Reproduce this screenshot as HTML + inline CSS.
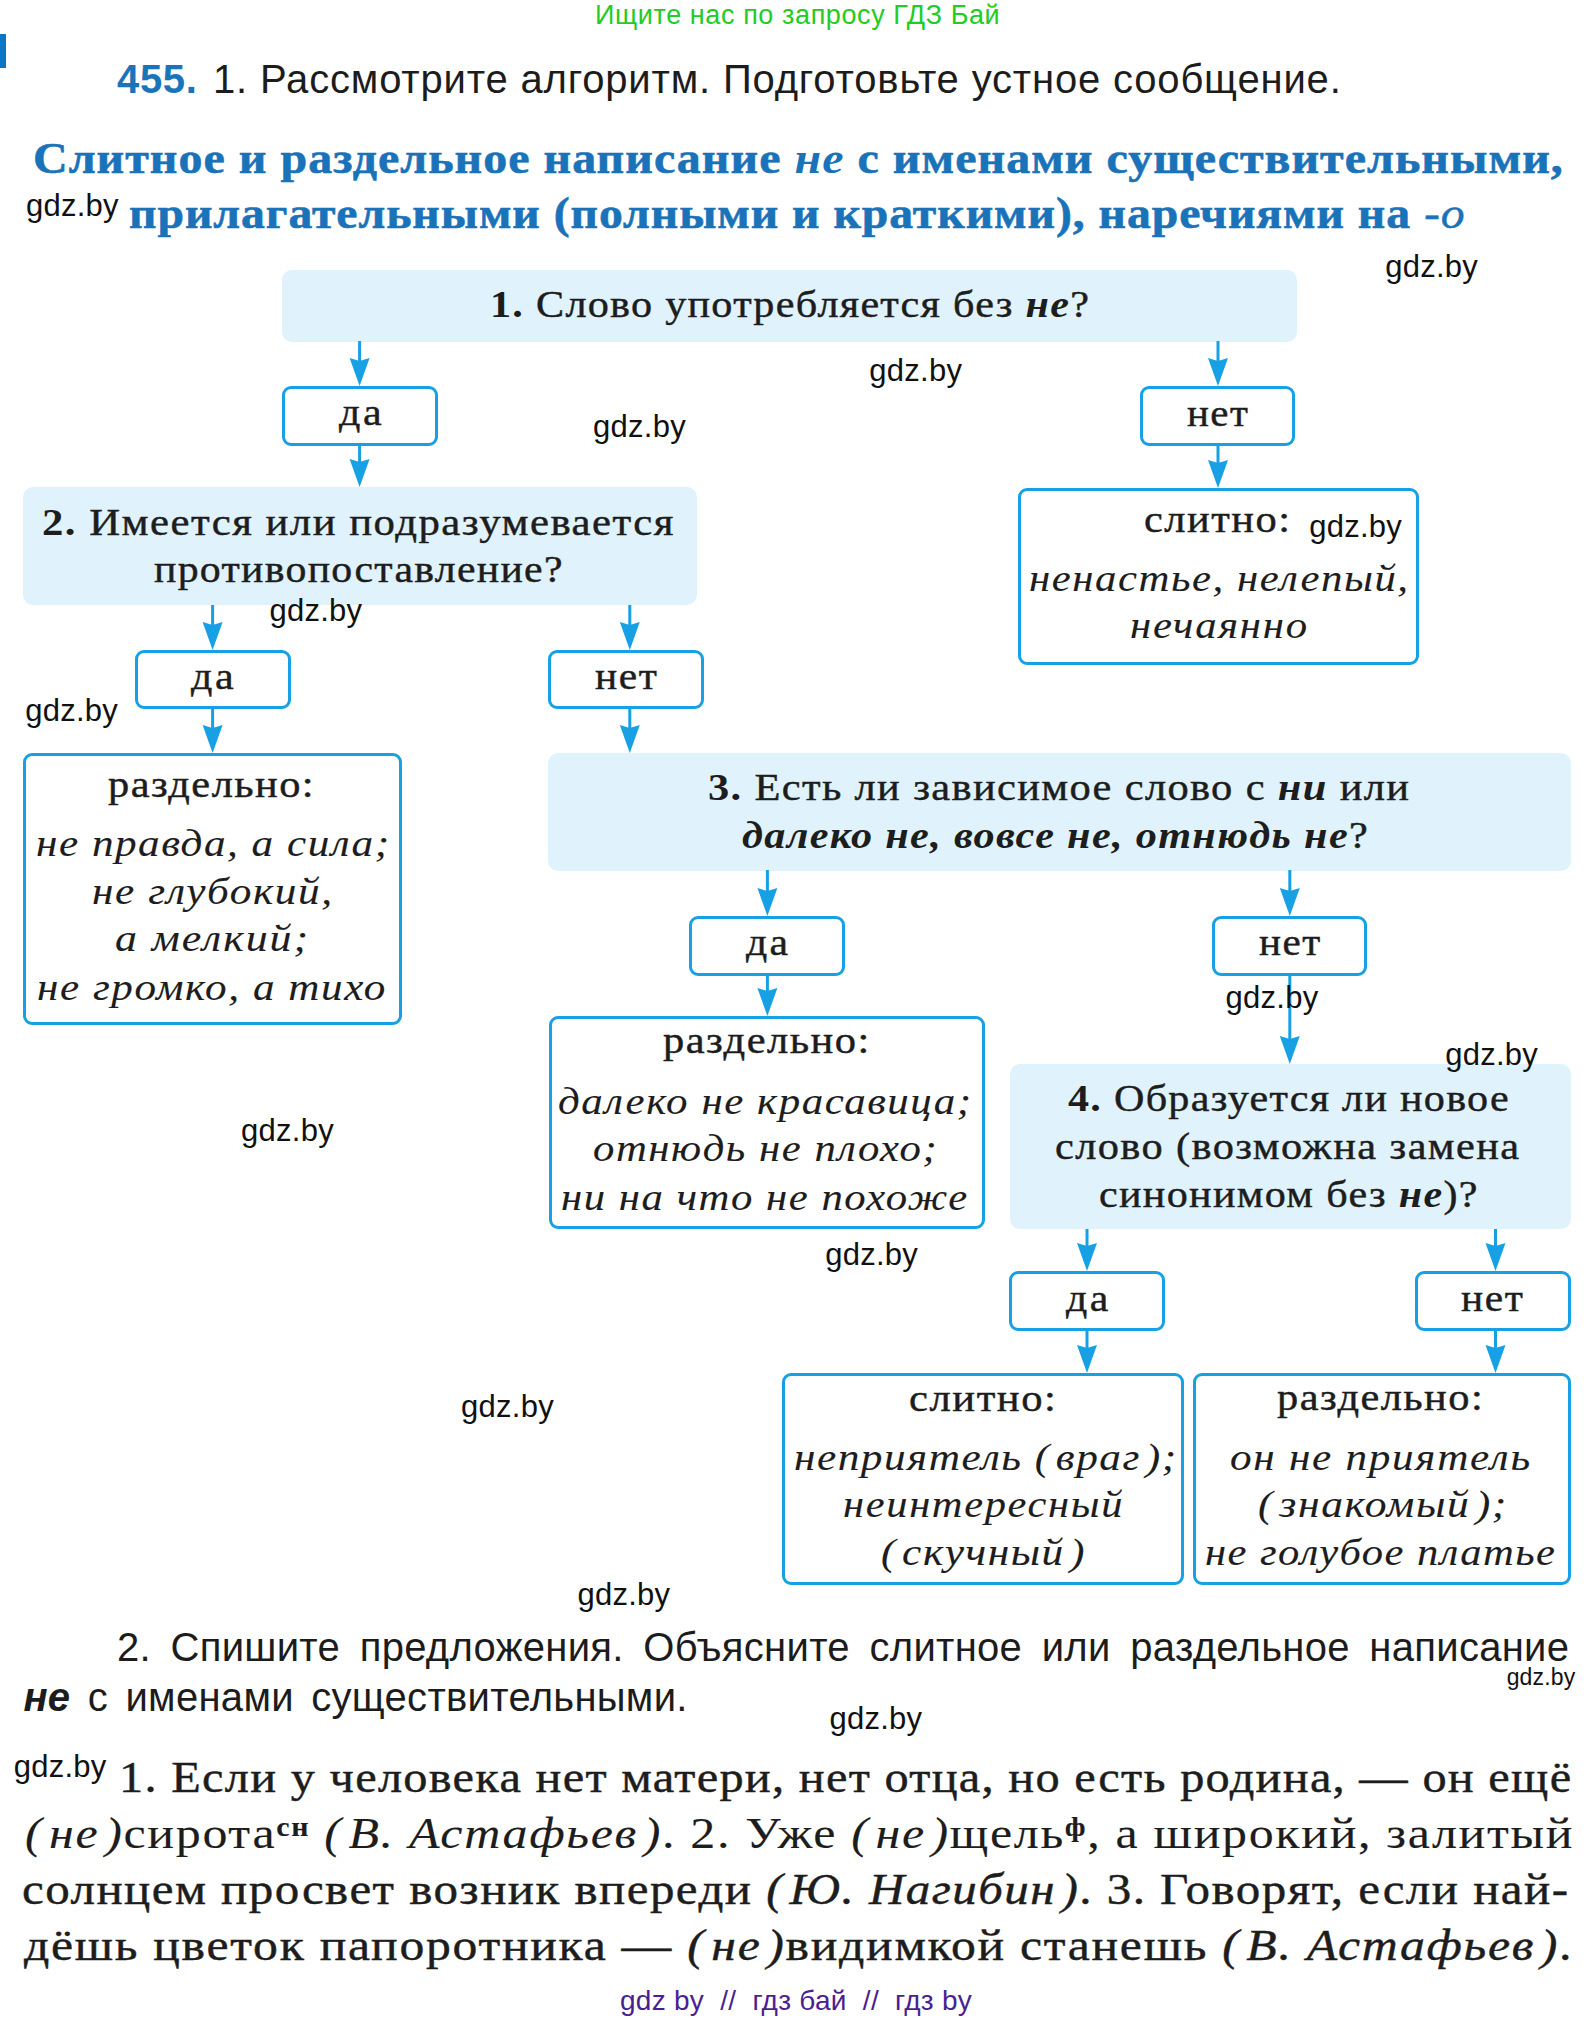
<!DOCTYPE html><html><head><meta charset="utf-8"><style>html,body{margin:0;padding:0;background:#fff}body{width:1596px;height:2019px;position:relative;overflow:hidden}.t{position:absolute;white-space:nowrap;line-height:1;transform-origin:0 0}b i,b{-webkit-text-stroke:0}.f{position:absolute;background:#e0f3fc;border-radius:10px}.o{position:absolute;border:3px solid #18a0e4;border-radius:9px;box-sizing:border-box;background:#fff}sup{font-size:0.6em;vertical-align:0.45em;line-height:0;font-weight:bold}</style></head><body><div style="position:absolute;left:0;top:34px;width:6px;height:34px;background:#0b76c6"></div><div class="f" style="left:282.0px;top:270.0px;width:1015.0px;height:71.5px"></div><div class="f" style="left:23.0px;top:487.0px;width:674.0px;height:118.3px"></div><div class="f" style="left:548.3px;top:753.0px;width:1022.7px;height:117.5px"></div><div class="f" style="left:1009.7px;top:1064.3px;width:561.3px;height:164.5px"></div><div class="o" style="left:282.3px;top:386.0px;width:155.4px;height:59.5px"></div><div class="o" style="left:1140.3px;top:386.0px;width:155.1px;height:59.5px"></div><div class="o" style="left:1017.5px;top:487.5px;width:401.5px;height:177.0px"></div><div class="o" style="left:134.5px;top:650.0px;width:156.0px;height:59.3px"></div><div class="o" style="left:548.3px;top:650.0px;width:156.1px;height:59.3px"></div><div class="o" style="left:23.4px;top:753.0px;width:378.3px;height:272.0px"></div><div class="o" style="left:689.2px;top:916.0px;width:155.8px;height:59.5px"></div><div class="o" style="left:1212.3px;top:916.0px;width:154.8px;height:59.5px"></div><div class="o" style="left:548.6px;top:1016.0px;width:436.7px;height:213.2px"></div><div class="o" style="left:1009.4px;top:1271.0px;width:155.4px;height:59.5px"></div><div class="o" style="left:1414.5px;top:1271.0px;width:156.1px;height:59.5px"></div><div class="o" style="left:782.1px;top:1373.0px;width:401.9px;height:212.0px"></div><div class="o" style="left:1192.5px;top:1373.0px;width:378.4px;height:211.7px"></div><svg style="position:absolute;left:0;top:0" width="1596" height="2019" viewBox="0 0 1596 2019"><rect x="358.1" y="341.0" width="3" height="21.0" fill="#18a0e4"/><path d="M349.6 358.0L359.6 361.0L369.6 358.0L359.6 386.0Z" fill="#18a0e4"/><rect x="1216.5" y="341.0" width="3" height="21.0" fill="#18a0e4"/><path d="M1208.0 358.0L1218.0 361.0L1228.0 358.0L1218.0 386.0Z" fill="#18a0e4"/><rect x="358.1" y="445.0" width="3" height="18.0" fill="#18a0e4"/><path d="M349.6 459.0L359.6 462.0L369.6 459.0L359.6 487.0Z" fill="#18a0e4"/><rect x="1216.5" y="445.0" width="3" height="19.0" fill="#18a0e4"/><path d="M1208.0 460.0L1218.0 463.0L1228.0 460.0L1218.0 488.0Z" fill="#18a0e4"/><rect x="211.1" y="605.0" width="3" height="21.0" fill="#18a0e4"/><path d="M202.6 622.0L212.6 625.0L222.6 622.0L212.6 650.0Z" fill="#18a0e4"/><rect x="628.3" y="605.0" width="3" height="21.0" fill="#18a0e4"/><path d="M619.8 622.0L629.8 625.0L639.8 622.0L629.8 650.0Z" fill="#18a0e4"/><rect x="211.1" y="709.0" width="3" height="20.0" fill="#18a0e4"/><path d="M202.6 725.0L212.6 728.0L222.6 725.0L212.6 753.0Z" fill="#18a0e4"/><rect x="628.3" y="709.0" width="3" height="20.0" fill="#18a0e4"/><path d="M619.8 725.0L629.8 728.0L639.8 725.0L629.8 753.0Z" fill="#18a0e4"/><rect x="765.9" y="870.0" width="3" height="22.0" fill="#18a0e4"/><path d="M757.4 888.0L767.4 891.0L777.4 888.0L767.4 916.0Z" fill="#18a0e4"/><rect x="1288.3" y="870.0" width="3" height="22.0" fill="#18a0e4"/><path d="M1279.8 888.0L1289.8 891.0L1299.8 888.0L1289.8 916.0Z" fill="#18a0e4"/><rect x="765.9" y="975.0" width="3" height="17.0" fill="#18a0e4"/><path d="M757.4 988.0L767.4 991.0L777.4 988.0L767.4 1016.0Z" fill="#18a0e4"/><rect x="1288.3" y="975.0" width="3" height="65.0" fill="#18a0e4"/><path d="M1279.8 1036.0L1289.8 1039.0L1299.8 1036.0L1289.8 1064.0Z" fill="#18a0e4"/><rect x="1085.5" y="1229.0" width="3" height="18.0" fill="#18a0e4"/><path d="M1077.0 1243.0L1087.0 1246.0L1097.0 1243.0L1087.0 1271.0Z" fill="#18a0e4"/><rect x="1494.0" y="1229.0" width="3" height="18.0" fill="#18a0e4"/><path d="M1485.5 1243.0L1495.5 1246.0L1505.5 1243.0L1495.5 1271.0Z" fill="#18a0e4"/><rect x="1085.5" y="1330.0" width="3" height="19.0" fill="#18a0e4"/><path d="M1077.0 1345.0L1087.0 1348.0L1097.0 1345.0L1087.0 1373.0Z" fill="#18a0e4"/><rect x="1494.0" y="1330.0" width="3" height="19.0" fill="#18a0e4"/><path d="M1485.5 1345.0L1495.5 1348.0L1505.5 1345.0L1495.5 1373.0Z" fill="#18a0e4"/></svg><div class="t" style="left:595.00px;top:2.00px;font-family:'Liberation Sans', sans-serif;font-size:27px;letter-spacing:0.593px;word-spacing:0.000px;color:#22cc22;">Ищите нас по запросу ГДЗ Бай</div><div class="t" style="left:117.00px;top:59.00px;font-family:'Liberation Sans', sans-serif;font-size:40px;letter-spacing:0.667px;word-spacing:0.000px;color:#1a74ba;"><b>455.</b></div><div class="t" style="left:213.00px;top:59.00px;font-family:'Liberation Sans', sans-serif;font-size:40px;letter-spacing:0.825px;word-spacing:0.000px;color:#1c1c1c;">1. Рассмотрите алгоритм. Подготовьте устное сообщение.</div><div class="t" style="left:32.87px;top:136.00px;font-family:'Liberation Serif', serif;font-size:45px;letter-spacing:0.950px;word-spacing:0.000px;color:#1a72b8;transform:scaleX(1.0664);-webkit-text-stroke:0.45px #1a72b8;"><b style="-webkit-text-stroke:0.6px #1a72b8">Слитное и раздельное написание <i>не</i> с именами существительными,</b></div><div class="t" style="left:129.24px;top:191.00px;font-family:'Liberation Serif', serif;font-size:45px;letter-spacing:0.883px;word-spacing:0.000px;color:#1a72b8;transform:scaleX(1.0602);-webkit-text-stroke:0.45px #1a72b8;"><b style="-webkit-text-stroke:0.6px #1a72b8">прилагательными (полными и краткими), наречиями на </b><i>-о</i></div><div class="t" style="left:489.67px;top:285.00px;font-family:'Liberation Serif', serif;font-size:38px;letter-spacing:1.143px;word-spacing:0.000px;color:#1d1d1d;transform:scaleX(1.1100);-webkit-text-stroke:0.45px #1d1d1d;"><b>1.</b> Слово употребляется без <b><i>не</i></b>?</div><div class="t" style="left:338.70px;top:393.00px;font-family:'Liberation Serif', serif;font-size:38px;letter-spacing:2.281px;word-spacing:0.000px;color:#1d1d1d;transform:scaleX(1.1050);-webkit-text-stroke:0.45px #1d1d1d;">да</div><div class="t" style="left:1186.92px;top:394.00px;font-family:'Liberation Serif', serif;font-size:38px;letter-spacing:1.297px;word-spacing:0.000px;color:#1d1d1d;transform:scaleX(1.0792);-webkit-text-stroke:0.45px #1d1d1d;">нет</div><div class="t" style="left:41.75px;top:503.00px;font-family:'Liberation Serif', serif;font-size:38px;letter-spacing:1.325px;word-spacing:0.000px;color:#1d1d1d;transform:scaleX(1.1246);-webkit-text-stroke:0.45px #1d1d1d;"><b>2.</b> Имеется или подразумевается</div><div class="t" style="left:154.30px;top:550.00px;font-family:'Liberation Serif', serif;font-size:38px;letter-spacing:1.172px;word-spacing:0.000px;color:#1d1d1d;transform:scaleX(1.1000);-webkit-text-stroke:0.45px #1d1d1d;">противопоставление?</div><div class="t" style="left:1143.88px;top:500.00px;font-family:'Liberation Serif', serif;font-size:38px;letter-spacing:1.374px;word-spacing:0.000px;color:#1d1d1d;transform:scaleX(1.1160);-webkit-text-stroke:0.45px #1d1d1d;">слитно:</div><div class="t" style="left:1029.07px;top:559.00px;font-family:'Liberation Serif', serif;font-size:38px;letter-spacing:1.362px;word-spacing:0.000px;color:#1d1d1d;transform:scaleX(1.1262);-webkit-text-stroke:0.1px #1d1d1d;"><i>ненастье, нелепый,</i></div><div class="t" style="left:1129.58px;top:606.00px;font-family:'Liberation Serif', serif;font-size:38px;letter-spacing:1.529px;word-spacing:0.000px;color:#1d1d1d;transform:scaleX(1.1246);-webkit-text-stroke:0.1px #1d1d1d;"><i>нечаянно</i></div><div class="t" style="left:190.70px;top:657.00px;font-family:'Liberation Serif', serif;font-size:38px;letter-spacing:2.281px;word-spacing:0.000px;color:#1d1d1d;transform:scaleX(1.1050);-webkit-text-stroke:0.45px #1d1d1d;">да</div><div class="t" style="left:594.91px;top:657.00px;font-family:'Liberation Serif', serif;font-size:38px;letter-spacing:1.467px;word-spacing:0.000px;color:#1d1d1d;transform:scaleX(1.0906);-webkit-text-stroke:0.45px #1d1d1d;">нет</div><div class="t" style="left:107.78px;top:765.00px;font-family:'Liberation Serif', serif;font-size:38px;letter-spacing:1.299px;word-spacing:0.000px;color:#1d1d1d;transform:scaleX(1.1157);-webkit-text-stroke:0.45px #1d1d1d;">раздельно:</div><div class="t" style="left:35.86px;top:824.00px;font-family:'Liberation Serif', serif;font-size:38px;letter-spacing:1.333px;word-spacing:0.000px;color:#1d1d1d;transform:scaleX(1.1354);-webkit-text-stroke:0.1px #1d1d1d;"><i>не правда, а сила;</i></div><div class="t" style="left:92.36px;top:872.00px;font-family:'Liberation Serif', serif;font-size:38px;letter-spacing:1.415px;word-spacing:0.000px;color:#1d1d1d;transform:scaleX(1.1384);-webkit-text-stroke:0.1px #1d1d1d;"><i>не глубокий,</i></div><div class="t" style="left:115.44px;top:919.00px;font-family:'Liberation Serif', serif;font-size:38px;letter-spacing:1.679px;word-spacing:0.000px;color:#1d1d1d;transform:scaleX(1.1552);-webkit-text-stroke:0.1px #1d1d1d;"><i>а мелкий;</i></div><div class="t" style="left:36.57px;top:968.00px;font-family:'Liberation Serif', serif;font-size:38px;letter-spacing:1.389px;word-spacing:0.000px;color:#1d1d1d;transform:scaleX(1.1336);-webkit-text-stroke:0.1px #1d1d1d;"><i>не громко, а тихо</i></div><div class="t" style="left:707.88px;top:768.00px;font-family:'Liberation Serif', serif;font-size:38px;letter-spacing:1.206px;word-spacing:0.000px;color:#1d1d1d;transform:scaleX(1.1175);-webkit-text-stroke:0.45px #1d1d1d;"><b>3.</b> Есть ли зависимое слово с <b><i>ни</i></b> или</div><div class="t" style="left:742.09px;top:816.00px;font-family:'Liberation Serif', serif;font-size:38px;letter-spacing:1.179px;word-spacing:0.000px;color:#1d1d1d;transform:scaleX(1.1125);-webkit-text-stroke:0.45px #1d1d1d;"><b><i>далеко не, вовсе не, отнюдь не</i></b>?</div><div class="t" style="left:745.70px;top:923.00px;font-family:'Liberation Serif', serif;font-size:38px;letter-spacing:2.116px;word-spacing:0.000px;color:#1d1d1d;transform:scaleX(1.0967);-webkit-text-stroke:0.45px #1d1d1d;">да</div><div class="t" style="left:1258.92px;top:923.00px;font-family:'Liberation Serif', serif;font-size:38px;letter-spacing:1.349px;word-spacing:0.000px;color:#1d1d1d;transform:scaleX(1.0826);-webkit-text-stroke:0.45px #1d1d1d;">нет</div><div class="t" style="left:662.78px;top:1021.00px;font-family:'Liberation Serif', serif;font-size:38px;letter-spacing:1.327px;word-spacing:0.000px;color:#1d1d1d;transform:scaleX(1.1186);-webkit-text-stroke:0.45px #1d1d1d;">раздельно:</div><div class="t" style="left:558.47px;top:1082.00px;font-family:'Liberation Serif', serif;font-size:38px;letter-spacing:1.357px;word-spacing:0.000px;color:#1d1d1d;transform:scaleX(1.1296);-webkit-text-stroke:0.1px #1d1d1d;"><i>далеко не красавица;</i></div><div class="t" style="left:593.08px;top:1129.00px;font-family:'Liberation Serif', serif;font-size:38px;letter-spacing:1.379px;word-spacing:0.000px;color:#1d1d1d;transform:scaleX(1.1236);-webkit-text-stroke:0.1px #1d1d1d;"><i>отнюдь не плохо;</i></div><div class="t" style="left:561.38px;top:1178.00px;font-family:'Liberation Serif', serif;font-size:38px;letter-spacing:1.366px;word-spacing:0.000px;color:#1d1d1d;transform:scaleX(1.1238);-webkit-text-stroke:0.1px #1d1d1d;"><i>ни на что не похоже</i></div><div class="t" style="left:1067.80px;top:1079.00px;font-family:'Liberation Serif', serif;font-size:38px;letter-spacing:1.155px;word-spacing:0.000px;color:#1d1d1d;transform:scaleX(1.1084);-webkit-text-stroke:0.45px #1d1d1d;"><b>4.</b> Образуется ли новое</div><div class="t" style="left:1055.29px;top:1127.00px;font-family:'Liberation Serif', serif;font-size:38px;letter-spacing:1.268px;word-spacing:0.000px;color:#1d1d1d;transform:scaleX(1.1144);-webkit-text-stroke:0.45px #1d1d1d;">слово (возможна замена</div><div class="t" style="left:1098.89px;top:1175.00px;font-family:'Liberation Serif', serif;font-size:38px;letter-spacing:1.211px;word-spacing:0.000px;color:#1d1d1d;transform:scaleX(1.1072);-webkit-text-stroke:0.45px #1d1d1d;">синонимом без <b><i>не</i></b>)?</div><div class="t" style="left:1065.80px;top:1279.00px;font-family:'Liberation Serif', serif;font-size:38px;letter-spacing:2.182px;word-spacing:0.000px;color:#1d1d1d;transform:scaleX(1.1000);-webkit-text-stroke:0.45px #1d1d1d;">да</div><div class="t" style="left:1461.11px;top:1279.00px;font-family:'Liberation Serif', serif;font-size:38px;letter-spacing:1.467px;word-spacing:0.000px;color:#1d1d1d;transform:scaleX(1.0906);-webkit-text-stroke:0.45px #1d1d1d;">нет</div><div class="t" style="left:909.48px;top:1379.00px;font-family:'Liberation Serif', serif;font-size:38px;letter-spacing:1.417px;word-spacing:0.000px;color:#1d1d1d;transform:scaleX(1.1200);-webkit-text-stroke:0.45px #1d1d1d;">слитно:</div><div class="t" style="left:793.66px;top:1438.00px;font-family:'Liberation Serif', serif;font-size:38px;letter-spacing:1.311px;word-spacing:0.000px;color:#1d1d1d;transform:scaleX(1.1386);-webkit-text-stroke:0.1px #1d1d1d;"><i>неприятель ( враг );</i></div><div class="t" style="left:842.88px;top:1485.00px;font-family:'Liberation Serif', serif;font-size:38px;letter-spacing:1.483px;word-spacing:0.000px;color:#1d1d1d;transform:scaleX(1.1179);-webkit-text-stroke:0.1px #1d1d1d;"><i>неинтересный</i></div><div class="t" style="left:881.46px;top:1533.00px;font-family:'Liberation Serif', serif;font-size:38px;letter-spacing:1.340px;word-spacing:0.000px;color:#1d1d1d;transform:scaleX(1.1406);-webkit-text-stroke:0.1px #1d1d1d;"><i>( скучный )</i></div><div class="t" style="left:1277.38px;top:1378.00px;font-family:'Liberation Serif', serif;font-size:38px;letter-spacing:1.302px;word-spacing:0.000px;color:#1d1d1d;transform:scaleX(1.1161);-webkit-text-stroke:0.45px #1d1d1d;">раздельно:</div><div class="t" style="left:1229.66px;top:1438.00px;font-family:'Liberation Serif', serif;font-size:38px;letter-spacing:1.499px;word-spacing:0.000px;color:#1d1d1d;transform:scaleX(1.1368);-webkit-text-stroke:0.1px #1d1d1d;"><i>он не приятель</i></div><div class="t" style="left:1258.35px;top:1485.00px;font-family:'Liberation Serif', serif;font-size:38px;letter-spacing:1.396px;word-spacing:0.000px;color:#1d1d1d;transform:scaleX(1.1462);-webkit-text-stroke:0.1px #1d1d1d;"><i>( знакомый );</i></div><div class="t" style="left:1204.88px;top:1533.00px;font-family:'Liberation Serif', serif;font-size:38px;letter-spacing:1.295px;word-spacing:0.000px;color:#1d1d1d;transform:scaleX(1.1200);-webkit-text-stroke:0.1px #1d1d1d;"><i>не голубое платье</i></div><div class="t" style="left:117.00px;top:1627.00px;font-family:'Liberation Sans', sans-serif;font-size:40px;letter-spacing:0.300px;word-spacing:8.171px;color:#1c1c1c;">2. Спишите предложения. Объясните слитное или раздельное написание</div><div class="t" style="left:23.40px;top:1677.00px;font-family:'Liberation Sans', sans-serif;font-size:40px;letter-spacing:0.300px;word-spacing:5.967px;color:#1c1c1c;"><b><i>не</i></b> с именами существительными.</div><div class="t" style="left:118.70px;top:1756.00px;font-family:'Liberation Serif', serif;font-size:44px;letter-spacing:1.165px;word-spacing:0.000px;color:#1d1d1d;transform:scaleX(1.0991);-webkit-text-stroke:0.45px #1d1d1d;">1. Если у человека нет матери, нет отца, но есть родина, — он ещё</div><div class="t" style="left:25.16px;top:1812.00px;font-family:'Liberation Serif', serif;font-size:44px;letter-spacing:1.453px;word-spacing:0.000px;color:#1d1d1d;transform:scaleX(1.1358);-webkit-text-stroke:0.1px #1d1d1d;"><i>( не )</i>сирота<sup>сн</sup> <i>( В. Астафьев )</i>. 2. Уже <i>( не )</i>щель<sup>ф</sup>, а широкий, залитый</div><div class="t" style="left:22.17px;top:1868.00px;font-family:'Liberation Serif', serif;font-size:44px;letter-spacing:1.312px;word-spacing:0.000px;color:#1d1d1d;transform:scaleX(1.1131);-webkit-text-stroke:0.45px #1d1d1d;">солнцем просвет возник впереди <i>( Ю. Нагибин )</i>. 3. Говорят, если най-</div><div class="t" style="left:24.40px;top:1924.00px;font-family:'Liberation Serif', serif;font-size:44px;letter-spacing:1.519px;word-spacing:0.000px;color:#1d1d1d;transform:scaleX(1.1297);-webkit-text-stroke:0.45px #1d1d1d;">дёшь цветок папоротника — <i>( не )</i>видимкой станешь <i>( В. Астафьев )</i>.</div><div class="t" style="left:620.00px;top:1987.00px;font-family:'Liberation Sans', sans-serif;font-size:28px;letter-spacing:0.267px;word-spacing:0.000px;color:#4b1f91;">gdz by&nbsp; //&nbsp; гдз бай&nbsp; //&nbsp; гдз by</div><div class="t" style="left:25.90px;top:190.00px;font-family:'Liberation Sans', sans-serif;font-size:31px;letter-spacing:0.260px;word-spacing:0.000px;color:#111;">gdz.by</div><div class="t" style="left:1385.20px;top:251.00px;font-family:'Liberation Sans', sans-serif;font-size:31px;letter-spacing:0.260px;word-spacing:0.000px;color:#111;">gdz.by</div><div class="t" style="left:869.30px;top:355.00px;font-family:'Liberation Sans', sans-serif;font-size:31px;letter-spacing:0.260px;word-spacing:0.000px;color:#111;">gdz.by</div><div class="t" style="left:593.10px;top:411.00px;font-family:'Liberation Sans', sans-serif;font-size:31px;letter-spacing:0.260px;word-spacing:0.000px;color:#111;">gdz.by</div><div class="t" style="left:1309.20px;top:511.00px;font-family:'Liberation Sans', sans-serif;font-size:31px;letter-spacing:0.260px;word-spacing:0.000px;color:#111;">gdz.by</div><div class="t" style="left:269.40px;top:595.00px;font-family:'Liberation Sans', sans-serif;font-size:31px;letter-spacing:0.260px;word-spacing:0.000px;color:#111;">gdz.by</div><div class="t" style="left:25.20px;top:695.00px;font-family:'Liberation Sans', sans-serif;font-size:31px;letter-spacing:0.260px;word-spacing:0.000px;color:#111;">gdz.by</div><div class="t" style="left:1225.50px;top:982.00px;font-family:'Liberation Sans', sans-serif;font-size:31px;letter-spacing:0.260px;word-spacing:0.000px;color:#111;">gdz.by</div><div class="t" style="left:1445.20px;top:1039.00px;font-family:'Liberation Sans', sans-serif;font-size:31px;letter-spacing:0.260px;word-spacing:0.000px;color:#111;">gdz.by</div><div class="t" style="left:241.10px;top:1115.00px;font-family:'Liberation Sans', sans-serif;font-size:31px;letter-spacing:0.260px;word-spacing:0.000px;color:#111;">gdz.by</div><div class="t" style="left:825.20px;top:1239.00px;font-family:'Liberation Sans', sans-serif;font-size:31px;letter-spacing:0.260px;word-spacing:0.000px;color:#111;">gdz.by</div><div class="t" style="left:461.10px;top:1391.00px;font-family:'Liberation Sans', sans-serif;font-size:31px;letter-spacing:0.260px;word-spacing:0.000px;color:#111;">gdz.by</div><div class="t" style="left:577.40px;top:1579.00px;font-family:'Liberation Sans', sans-serif;font-size:31px;letter-spacing:0.260px;word-spacing:0.000px;color:#111;">gdz.by</div><div class="t" style="left:829.40px;top:1703.00px;font-family:'Liberation Sans', sans-serif;font-size:31px;letter-spacing:0.260px;word-spacing:0.000px;color:#111;">gdz.by</div><div class="t" style="left:13.70px;top:1751.00px;font-family:'Liberation Sans', sans-serif;font-size:31px;letter-spacing:0.260px;word-spacing:0.000px;color:#111;">gdz.by</div><div class="t" style="left:1506.70px;top:1666.00px;font-family:'Liberation Sans', sans-serif;font-size:23px;letter-spacing:0.140px;word-spacing:0.000px;color:#111;">gdz.by</div></body></html>
